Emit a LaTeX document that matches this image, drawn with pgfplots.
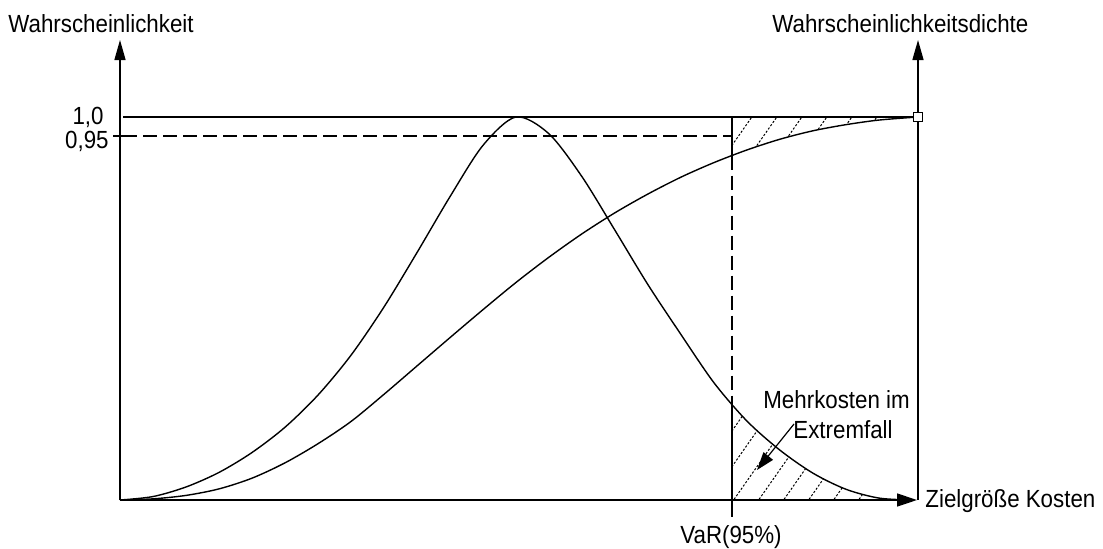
\documentclass[border=0pt]{standalone}
\usepackage{pgfplots}
\pgfplotsset{compat=1.18}
\usetikzlibrary{arrows.meta,patterns}
\usepackage{fontspec}
\setmainfont[FakeStretch=0.9]{Liberation Sans}
\pgfdeclarepatternformonly{hatchdots}{\pgfqpoint{-1pt}{-1pt}}{\pgfqpoint{13.5pt}{18.85pt}}{\pgfqpoint{12.5pt}{17.85pt}}{%
  \pgfsetlinewidth{0.5pt}\pgfsetdash{{1.1pt}{0.88pt}}{0pt}%
  \pgfpathmoveto{\pgfqpoint{0pt}{0pt}}\pgfpathlineto{\pgfqpoint{12.5pt}{17.85pt}}\pgfusepath{stroke}}
\pgfplotstableread{
x y
0 0
33 0.009
66 0.034
99 0.072
132 0.124
165 0.190
198 0.274
231 0.378
264 0.504
297 0.646
330 0.792
363 0.926
396 1.000
429 0.956
462 0.844
495 0.704
528 0.562
561 0.432
594 0.306
627 0.206
660 0.130
693 0.070
726 0.028
759 0.005
792 0
}\dens
\pgfplotstableread{
x y
0 0
33 0.003
66 0.012
99 0.029
132 0.057
165 0.097
198 0.147
231 0.205
264 0.276
297 0.350
330 0.424
363 0.497
396 0.568
429 0.634
462 0.695
495 0.750
528 0.799
561 0.843
594 0.881
627 0.914
660 0.942
693 0.964
726 0.980
759 0.992
798 1.000
}\cdf
\begin{document}
\begin{tikzpicture}[every node/.style={font=\fontsize{12.4}{14}\selectfont, inner sep=0pt}]
\useasboundingbox (-60pt,-24pt) rectangle (491.5pt,250pt);
\begin{axis}[at={(0,0)}, anchor=south west, scale only axis,
  width=399pt, height=230pt, xmin=0, xmax=798, ymin=0, ymax=1.201,
  axis lines=none, clip=false]
% hatching
\addplot[pattern=hatchdots, draw=none] coordinates {
(612,0.899) (627,0.914) (660,0.942) (693,0.964) (726,0.980) (759,0.992) (798,1.0) (612,1.0)};
\addplot[pattern=hatchdots, draw=none] coordinates {
(612,0) (612,0.251) (627,0.206) (660,0.130) (693,0.070) (726,0.028) (759,0.005) (792,0)};
% reference lines
\addplot[line width=0.7pt] coordinates {(3,1) (798,1)};
\addplot[line width=0.7pt] coordinates {(-7,0.95) (17,0.95)};
\addplot[line width=0.7pt, dash pattern=on 7pt off 3pt, dash phase=7pt] coordinates {(17,0.95) (612,0.95)};
% density and cumulative curve
\addplot[line width=0.7pt, smooth] table[x=x, y=y] {\dens};
\addplot[line width=0.7pt, smooth] table[x=x, y=y] {\cdf};
% VaR line
\addplot[line width=0.7pt] coordinates {(612,1) (612,0.899)};
\addplot[line width=0.7pt, dash pattern=on 7pt off 3pt] coordinates {(612,0.899) (612,0.251)};
\addplot[line width=0.7pt] coordinates {(612,0.251) (612,-0.044)};
% axes
\draw[line width=0.7pt,-{Triangle[length=10pt,width=5.5pt]}] (axis cs:0,0) -- (axis cs:0,1.201);
\draw[line width=0.7pt,-{Triangle[length=10pt,width=5.5pt]}] (axis cs:798,0) -- (axis cs:798,1.201);
\draw[line width=0.7pt,-{Triangle[length=10pt,width=6.5pt]}] (axis cs:0,0) -- (axis cs:797,0);
% end marker
\addplot[mark=square*, mark options={fill=white, line width=0.6pt}, mark size=2.4pt] coordinates {(798,1)};
\end{axis}
\node[anchor=base west] at (-56pt,234pt) {Wahrscheinlichkeit};
\node[anchor=base west] at (326pt,234pt) {Wahrscheinlichkeitsdichte};
\node[anchor=base east] at (-8pt,188pt) {1,0};
\node[anchor=base east] at (-5.5pt,176pt) {0,95};
\node[anchor=base west] at (402.5pt,-3.5pt) {Zielgröße Kosten};
\node[anchor=base] at (305.5pt,-21.5pt) {VaR(95\%)};
\node[anchor=base west] at (321.5pt,46pt) {Mehrkosten im};
\node[anchor=base west] at (336.5pt,31pt) {Extremfall};
\draw[line width=0.6pt,-{Triangle[length=9pt,width=6pt]}] (337pt,38pt) -- (318.5pt,15pt);
\end{tikzpicture}
\end{document}
